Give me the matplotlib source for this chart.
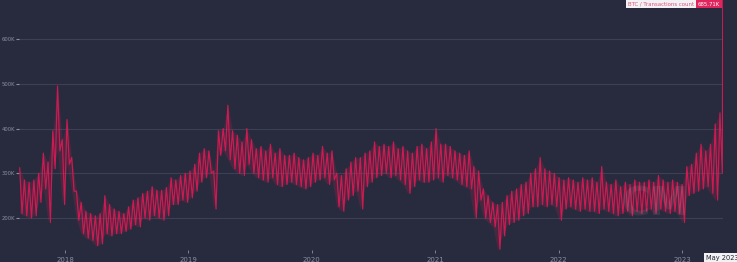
import numpy as np
import pandas as pd
import matplotlib
matplotlib.use("Agg")
import matplotlib.pyplot as plt
import matplotlib.dates as mdates

# Datos (miles de transacciones diarias BTC)
# picos (semana alta) y valles (semana baja) cada 14 días desde 2017-08-20
highs = [312, 285, 280, 285, 300, 345, 325, 395, 495, 375,
         420, 335, 260, 235, 215, 210, 205, 210, 250, 230,
         220, 215, 210, 225, 240, 245, 255, 260, 270, 262,
         262, 268, 290, 285, 295, 300, 305, 320, 345, 355,
         350, 305, 395, 400, 452, 395, 385, 370, 400, 375,
         355, 360, 350, 365, 345, 355, 340, 340, 345, 335,
         330, 335, 345, 340, 360, 345, 350, 300, 295, 310,
         325, 335, 335, 345, 350, 370, 360, 365, 360, 370,
         355, 360, 350, 345, 360, 365, 355, 370, 400, 365,
         365, 360, 350, 345, 340, 350, 315, 305, 265, 250,
         235, 230, 235, 250, 260, 265, 275, 280, 300, 310,
         335, 310, 305, 300, 290, 285, 290, 285, 280, 290,
         285, 290, 280, 315, 280, 275, 285, 270, 280, 275,
         285, 280, 280, 285, 280, 295, 285, 280, 285, 280,
         275, 315, 320, 345, 365, 350, 365, 410, 435]
lows = [210, 205, 200, 205, 235, 265, 190, 310, 350, 230,
        320, 260, 195, 165, 155, 150, 138, 142, 165, 160,
        165, 165, 170, 175, 185, 180, 200, 195, 205, 200,
        195, 205, 230, 230, 240, 235, 245, 260, 280, 290,
        300, 220, 340, 350, 330, 310, 300, 295, 320, 300,
        290, 285, 280, 290, 275, 270, 275, 280, 275, 270,
        265, 270, 280, 285, 290, 275, 285, 225, 215, 240,
        250, 260, 220, 270, 280, 290, 295, 300, 290, 295,
        285, 275, 255, 270, 285, 280, 280, 285, 290, 280,
        295, 290, 285, 275, 270, 265, 200, 240, 200, 190,
        180, 130, 160, 185, 190, 195, 205, 210, 225, 225,
        230, 225, 230, 225, 195, 220, 225, 220, 215, 220,
        215, 215, 210, 220, 215, 210, 205, 210, 215, 205,
        215, 210, 215, 220, 210, 220, 215, 210, 215, 210,
        190, 250, 255, 260, 265, 270, 255, 240, 300]
last_date = "2023-05-01"
last_value = 685.71

y_ticks = [200, 300, 400, 500, 600]
y_labels = ["200K", "300K", "400K", "500K", "600K"]
years = [2018, 2019, 2020, 2021, 2022, 2023]

# Colores
fondo = "#282b3d"
linea = "#dc1a55"
gris = "#8a8fa2"

# Construir la serie en zigzag (alto / bajo)
fechas_alto = pd.date_range("2017-08-20", periods=len(highs), freq="14D")
fechas_bajo = fechas_alto + pd.Timedelta(days=7)
fechas = np.column_stack([fechas_alto.values, fechas_bajo.values]).ravel()
valores = np.column_stack([highs, lows]).ravel()
fechas = np.append(fechas, np.datetime64(last_date))
valores = np.append(valores, last_value)

fig = plt.figure(figsize=(7.37, 2.62), dpi=100, facecolor=fondo)
ax = fig.add_axes([19 / 737, 12 / 262, 704 / 737, 250 / 262], facecolor=fondo)

# banda tenue entre picos y valles + línea en zigzag
ax.fill_between(fechas_alto, lows, highs, color=linea, alpha=0.18, lw=0, zorder=2)
ax.plot(fechas, valores, color=linea, lw=0.85, alpha=0.9, zorder=3)

ax.set_xlim(pd.Timestamp("2017-08-18"), pd.Timestamp("2023-05-02"))
ax.set_ylim(128.5, 687.2)

ax.set_yticks(y_ticks)
ax.set_yticklabels(y_labels)
ax.set_xticks([pd.Timestamp(f"{y}-01-01") for y in years])
ax.xaxis.set_major_formatter(mdates.DateFormatter("%Y"))

ax.grid(axis="y", color="#3c4055", lw=0.8)
ax.set_axisbelow(True)
for s in ax.spines.values():
    s.set_visible(False)
ax.tick_params(axis="y", colors=gris, labelsize=3.8, length=2.2, width=0.8, pad=0.8)
ax.tick_params(axis="x", colors=gris, labelsize=5, length=2.5, width=0.6, pad=2.2)

# Línea de cursor y etiquetas
ax.axvline(pd.Timestamp(last_date), color="#6a2146", lw=0.8, zorder=1)
fig.text(655 / 737, 1 - 205 / 262, "CM", fontsize=28, color="white", alpha=0.07,
         ha="center", va="center", fontweight="bold")
fig.text(694 / 737, 1 - 4 / 262, "BTC / Transactions count", fontsize=3.9, color="#e0507a",
         ha="right", va="center",
         bbox=dict(boxstyle="square,pad=0.3", fc="#f2f2f5", ec="none"))
fig.text(698 / 737, 1 - 4 / 262, "685.71K", fontsize=3.9, color="white",
         ha="left", va="center",
         bbox=dict(boxstyle="square,pad=0.3", fc="#e0245e", ec="none"))
fig.text(722 / 737, 1 - 258 / 262, "May 2023", fontsize=4.8, color="#20232f",
         ha="center", va="center",
         bbox=dict(boxstyle="square,pad=0.25", fc="#f2f2f5", ec="none"))

fig.savefig("out.png", dpi=100, facecolor=fondo)
